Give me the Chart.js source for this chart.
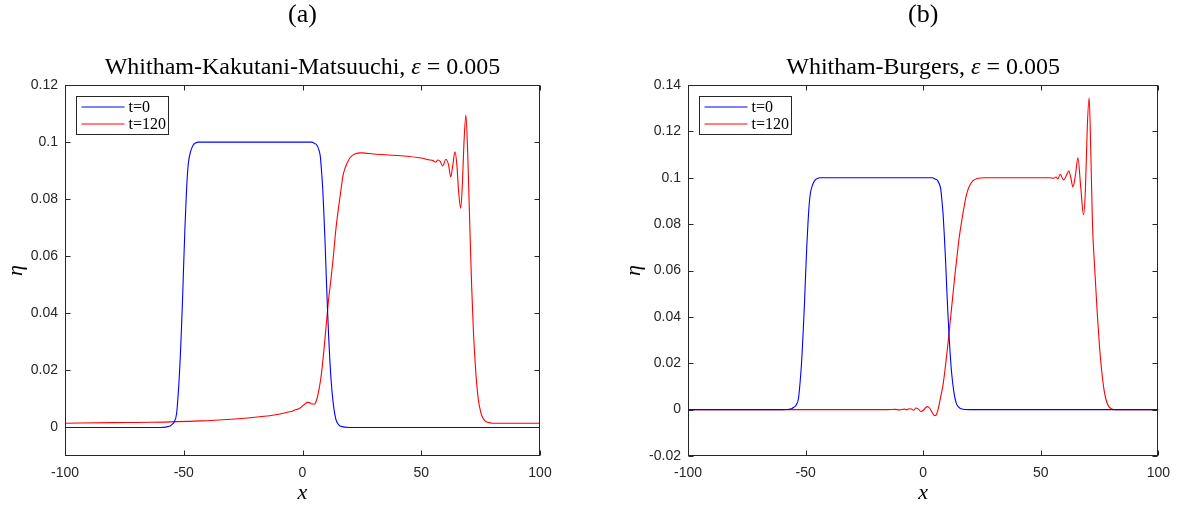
<!DOCTYPE html>
<html>
<head>
<meta charset="utf-8">
<script src="https://cdn.jsdelivr.net/npm/chart.js@4"></script>
<style>
  html, body { margin: 0; padding: 0; background: #fff; }
  #wrap { position: relative; width: 1179px; height: 507px; overflow: hidden; }
  canvas { position: absolute; top: 0; }
</style>
</head>
<body>
<div id="wrap">
  <canvas id="chartA" width="590" height="507" style="left:0"></canvas>
  <canvas id="chartB" width="589" height="507" style="left:590px"></canvas>
</div>
<script>
// --- DATA ---
// t=0 initial profile, same in both panels
const xT0 = [-100, -60, -56, -55, -54, -53, -52, -51.5, -51, -50.5, -50, -49.5, -49, -48.5, -48, -47, -46, -45, -44, -40,
  0, 4, 5, 6, 7, 7.5, 8, 8.5, 9, 9.5, 10, 10.5, 11, 11.5, 12, 13, 14, 15, 16, 20, 100];
const etaT0 = [0, 0, 0.0004, 0.001, 0.002, 0.005, 0.016, 0.024, 0.034, 0.045, 0.058, 0.07, 0.08, 0.088, 0.093, 0.097, 0.099, 0.0997, 0.1, 0.1,
  0.1, 0.1, 0.0995, 0.099, 0.097, 0.095, 0.09, 0.084, 0.075, 0.065, 0.053, 0.042, 0.032, 0.024, 0.017, 0.008, 0.003, 0.0012, 0.0004, 0, 0];

// (a) Whitham-Kakutani-Matsuuchi, t=120
const xWKM = [-100, -80, -64, -43, -30, -22, -15, -10, -8, -6, -4, -3, -2, -1, 0, 1, 2, 3, 4, 5, 6, 7, 8, 9, 10,
  11, 12, 13, 14, 15, 16, 17, 18, 19, 20, 22, 25, 30, 40, 50, 53, 55, 56, 57, 58, 59, 60.4, 61.5, 62.4, 63.3, 64.2,
  65, 65.8, 66.6, 67.3, 68, 68.8, 69.6, 70.5, 71.2, 72, 73, 74, 75, 76, 77, 78, 80, 100];
const etaWKM = [0.0015, 0.0017, 0.0018, 0.0023, 0.0029, 0.0034, 0.004, 0.0046, 0.005, 0.0054, 0.0058, 0.0062, 0.0064, 0.0068,
  0.0076, 0.0082, 0.0088, 0.0087, 0.0082, 0.0082, 0.0098, 0.0135, 0.019, 0.027, 0.036,
  0.045, 0.052, 0.06, 0.069, 0.076, 0.082, 0.088, 0.091, 0.093, 0.0945, 0.0958, 0.0962, 0.0958, 0.0953, 0.0944, 0.0938,
  0.0935, 0.093, 0.0937, 0.0932, 0.0916, 0.094, 0.092, 0.0878, 0.092, 0.0966,
  0.092, 0.082, 0.0768, 0.085, 0.1, 0.1095, 0.095, 0.069, 0.05, 0.033, 0.019, 0.01, 0.0055, 0.0032, 0.0022, 0.0018, 0.0015, 0.0015];

// (b) Whitham-Burgers, t=120
const xWB = [-100, -15, -12, -10, -8, -7, -6, -5, -4, -3.1, -2, -1, 0, 1, 1.8, 2.8, 3.8, 4.6, 5.1, 5.7, 6.5, 7.5, 8.5, 9.5,
  10.5, 11.5, 12.5, 13.5, 14.5, 15.3, 16.5, 17.5, 18.5, 19.5, 21, 23, 26, 40, 54, 55.5, 56.5, 57.3, 58.3, 59.7, 61,
  61.9, 62.8, 63.7, 64.8, 65.8, 67, 68.2, 69, 69.8, 70.6, 71.2, 72, 73, 74, 75, 76, 77, 78, 79, 80, 82, 100];
const etaWB = [0, 0, 0.0001, -0.0001, 0.0002, -0.0001, 0.0004, 0.0003, -0.0003, 0.0007, 0.0002, -0.0008, -0.0004, 0.0008,
  0.0013, 0.0006, -0.0012, -0.0024, -0.0026, -0.002, 0.0008, 0.0058, 0.011, 0.019,
  0.028, 0.038, 0.048, 0.058, 0.067, 0.074, 0.082, 0.088, 0.093, 0.096, 0.0985, 0.0997, 0.1, 0.1, 0.1, 0.0998, 0.1003,
  0.0995, 0.1015, 0.099, 0.1012, 0.103, 0.1, 0.096, 0.1015, 0.1086, 0.096, 0.084, 0.095, 0.122, 0.1345, 0.115,
  0.08, 0.06, 0.042, 0.027, 0.016, 0.008, 0.0035, 0.0013, 0.0004, 0, 0];

const xTicks = [-100, -50, 0, 50, 100];
const xTickLabels = ['-100', '-50', '0', '50', '100'];
const yTicksA = [0, 0.02, 0.04, 0.06, 0.08, 0.1, 0.12];
const yTickLabelsA = ['0', '0.02', '0.04', '0.06', '0.08', '0.1', '0.12'];
const yTicksB = [-0.02, 0, 0.02, 0.04, 0.06, 0.08, 0.1, 0.12, 0.14];
const yTickLabelsB = ['-0.02', '0', '0.02', '0.04', '0.06', '0.08', '0.1', '0.12', '0.14'];
const seriesNames = ['t=0', 't=120'];

const AXIS = '#262626';
const SERIF = '"Liberation Serif", "DejaVu Serif", serif';
const SANS = '"Liberation Sans", Arial, sans-serif';

function zip(xs, ys) {
  return xs.map((x, i) => ({ x: x, y: ys[i] }));
}

// panel letter + title, centred over the plot box
const panelText = {
  id: 'panelText',
  afterDraw(chart, args, opts) {
    const { ctx, chartArea: a } = chart;
    const cx = (a.left + a.right) / 2;
    ctx.save();
    ctx.fillStyle = '#000';
    ctx.textBaseline = 'middle';
    ctx.textAlign = 'center';
    ctx.font = '26px ' + SERIF;
    ctx.fillText(opts.letter, cx, 15);
    // title made of plain and italic pieces
    ctx.textAlign = 'left';
    let total = 0;
    opts.title.forEach(p => {
      ctx.font = (p.italic ? 'italic ' : '') + '24px ' + SERIF;
      p.w = ctx.measureText(p.text).width;
      total += p.w;
    });
    let x = cx - total / 2;
    opts.title.forEach(p => {
      ctx.font = (p.italic ? 'italic ' : '') + '24px ' + SERIF;
      ctx.fillText(p.text, x, 68);
      x += p.w;
    });
    ctx.restore();
  }
};

// matlab style box with inward ticks + legend
const boxAndLegend = {
  id: 'boxAndLegend',
  afterDatasetsDraw(chart) {
    const { ctx, chartArea: a, scales } = chart;
    ctx.save();
    ctx.strokeStyle = AXIS;
    ctx.lineWidth = 1;
    const L = Math.round(a.left) + 0.5, R = Math.round(a.right) - 0.5;
    const T = Math.round(a.top) + 0.5, B = Math.round(a.bottom) - 0.5;
    ctx.strokeRect(L, T, R - L, B - T);
    const tl = 5;
    ctx.beginPath();
    scales.x.ticks.forEach(t => {
      const px = Math.round(scales.x.getPixelForValue(t.value)) + 0.5;
      ctx.moveTo(px, B); ctx.lineTo(px, B - tl);
      ctx.moveTo(px, T); ctx.lineTo(px, T + tl);
    });
    scales.y.ticks.forEach(t => {
      const py = Math.round(scales.y.getPixelForValue(t.value)) + 0.5;
      ctx.moveTo(L, py); ctx.lineTo(L + tl, py);
      ctx.moveTo(R, py); ctx.lineTo(R - tl, py);
    });
    ctx.stroke();

    // legend
    const lx = Math.round(a.left) + 11.5, ly = Math.round(a.top) + 11.5;
    const lw = 92, lh = 38;
    ctx.fillStyle = '#fff';
    ctx.fillRect(lx, ly, lw, lh);
    ctx.strokeStyle = AXIS;
    ctx.strokeRect(lx, ly, lw, lh);
    chart.data.datasets.forEach((ds, i) => {
      const y = ly + 10.5 + i * 17;
      ctx.strokeStyle = ds.borderColor;
      ctx.lineWidth = 1;
      ctx.beginPath();
      ctx.moveTo(lx + 5, y); ctx.lineTo(lx + 48, y);
      ctx.stroke();
      ctx.fillStyle = '#000';
      ctx.font = '16px ' + SERIF;
      ctx.textBaseline = 'middle';
      ctx.fillText(ds.label, lx + 52, y + 1);
    });
    ctx.restore();
  }
};

function makeChart(id, redX, redY, yTicks, yLabels, pad, yWidth, letter, title) {
  const ctx = document.getElementById(id).getContext('2d');
  return new Chart(ctx, {
    type: 'line',
    data: {
      datasets: [
        { label: seriesNames[0], data: zip(xT0, etaT0), borderColor: '#0000ff', borderWidth: 1.1,
          pointRadius: 0, fill: false, cubicInterpolationMode: 'monotone' },
        { label: seriesNames[1], data: zip(redX, redY), borderColor: '#ff0000', borderWidth: 1.1,
          pointRadius: 0, fill: false, cubicInterpolationMode: 'monotone' }
      ]
    },
    options: {
      responsive: false,
      animation: false,
      devicePixelRatio: 1,
      layout: { padding: pad },
      scales: {
        x: {
          type: 'linear',
          min: -100, max: 100,
          afterBuildTicks: s => { s.ticks = xTicks.map(v => ({ value: v })); },
          afterFit: s => { s.height = 51; },
          grid: { display: false, drawTicks: false },
          border: { display: false },
          ticks: { color: AXIS, font: { family: SANS, size: 14 }, padding: 9, maxRotation: 0,
                   callback: (v, i) => xTickLabels[i] },
          title: { display: true, text: 'x', color: '#000', padding: { top: 0, bottom: 1 },
                   font: { family: SERIF, size: 22, style: 'italic' } }
        },
        y: {
          type: 'linear',
          min: yTicks[0] === 0 ? -0.01 : yTicks[0], max: yTicks[yTicks.length - 1],
          afterBuildTicks: s => { s.ticks = yTicks.map(v => ({ value: v })); },
          afterFit: s => { s.width = yWidth; },
          grid: { display: false, drawTicks: false },
          border: { display: false },
          ticks: { color: AXIS, font: { family: SANS, size: 14 }, padding: 7,
                   callback: (v, i) => yLabels[i] },
          title: { display: true, text: 'η', color: '#000', padding: { top: 3, bottom: 0 },
                   font: { family: SERIF, size: 22, style: 'italic' } }
        }
      },
      plugins: {
        legend: { display: false },
        tooltip: { enabled: false },
        panelText: { letter: letter, title: title }
      }
    },
    plugins: [panelText, boxAndLegend]
  });
}

makeChart('chartA', xWKM, etaWKM, yTicksA, yTickLabelsA,
  { top: 85, left: 0, right: 50, bottom: 0 }, 65, '(a)',
  [{ text: 'Whitham-Kakutani-Matsuuchi, ' }, { text: 'ε', italic: true }, { text: ' = 0.005' }]);

makeChart('chartB', xWB, etaWB, yTicksB, yTickLabelsB,
  { top: 85, left: 28, right: 19, bottom: 0 }, 70, '(b)',
  [{ text: 'Whitham-Burgers, ' }, { text: 'ε', italic: true }, { text: ' = 0.005' }]);
</script>
</body>
</html>
